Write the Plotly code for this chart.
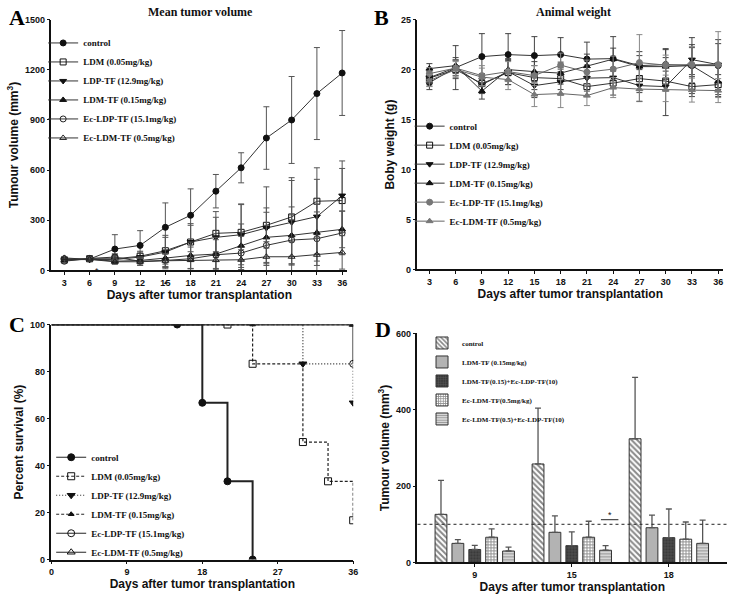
import plotly.graph_objects as go
from plotly.subplots import make_subplots

# ---- shared ----
days = [3, 6, 9, 12, 15, 18, 21, 24, 27, 30, 33, 36]
groups = ["control", "LDM (0.05mg/kg)", "LDP-TF (12.9mg/kg)", "LDM-TF (0.15mg/kg)",
          "Ec-LDP-TF (15.1mg/kg)", "Ec-LDM-TF (0.5mg/kg)"]

# ---- A: mean tumor volume (mm3) ----
vol_control = [70, 68, 128, 150, 258, 330, 474, 614, 792, 900, 1058, 1181]
vol_ldm = [62, 70, 70, 85, 118, 170, 222, 228, 270, 320, 414, 418]
vol_ldp = [65, 65, 65, 80, 110, 170, 198, 214, 254, 288, 322, 448]
vol_ldm_tf = [60, 68, 55, 60, 74, 90, 98, 148, 198, 210, 226, 246]
vol_ec_ldp = [55, 72, 80, 55, 60, 70, 94, 104, 150, 182, 190, 224]
vol_ec_ldm = [75, 66, 52, 52, 58, 62, 62, 64, 82, 82, 94, 108]
sd_vol_control = [8, 10, 86, 88, 146, 158, 100, 90, 187, 260, 275, 254]
sd_vol_ldm = [12, 15, 25, 30, 80, 110, 130, 170, 230, 235, 200, 192]
sd_vol_ldp = [10, 12, 20, 30, 100, 100, 120, 180, 120, 250, 223, 207]
sd_vol_ldm_tf = [10, 10, 15, 20, 50, 80, 100, 130, 150, 170, 170, 110]
sd_vol_ec_ldp = [8, 12, 20, 25, 40, 70, 90, 100, 120, 150, 160, 130]
sd_vol_ec_ldm = [8, 10, 15, 20, 40, 50, 50, 60, 90, 90, 100, 100]

# ---- B: body weight (g) ----
wt_control = [18.7, 20.2, 21.3, 21.5, 21.4, 21.5, 21.05, 21.1, 20.4, 20.5, 20.4, 20.4]
wt_ldm = [19.15, 20.0, 18.6, 19.7, 19.2, 19.1, 18.3, 18.65, 19.1, 18.85, 18.3, 18.5]
wt_ldp = [19.2, 20.2, 18.5, 19.8, 18.4, 18.75, 19.15, 19.2, 18.4, 18.3, 21.0, 20.5]
wt_ldm_tf = [20.1, 20.4, 17.85, 20.0, 19.8, 19.65, 20.35, 21.05, 20.3, 20.3, 20.4, 18.8]
wt_ec_ldp = [19.6, 20.15, 19.4, 19.8, 19.4, 20.45, 19.75, 20.05, 20.7, 20.45, 20.5, 20.5]
wt_ec_ldm = [18.9, 20.0, 19.25, 19.0, 17.5, 17.6, 17.4, 18.2, 18.05, 18.0, 17.95, 17.9]
sd_wt_control = [0.7, 2.2, 2.3, 2.1, 1.9, 1.7, 1.7, 2.2, 1.0, 1.5, 1.8, 2.2]
sd_wt_ldm = [0.8, 0.9, 1.0, 1.2, 1.2, 1.1, 1.0, 1.2, 1.4, 1.0, 1.0, 1.0]
sd_wt_ldp = [0.6, 0.8, 0.8, 1.3, 1.2, 1.3, 1.3, 1.0, 1.6, 2.9, 1.5, 2.5]
sd_wt_ldm_tf = [0.5, 0.8, 0.8, 1.0, 1.0, 1.1, 1.2, 1.1, 1.5, 1.8, 2.8, 1.5]
sd_wt_ec_ldp = [0.6, 0.8, 1.0, 1.0, 1.0, 1.2, 1.2, 1.3, 2.8, 1.0, 1.8, 3.3]
sd_wt_ec_ldm = [0.6, 0.8, 0.9, 1.0, 1.2, 1.4, 1.0, 1.0, 1.2, 1.2, 1.2, 1.2]

# ---- C: survival (%) ----
surv_t_control = [0, 15, 18, 21, 24]
surv_control = [100, 100, 66.7, 33.3, 0]
surv_t_ldm = [0, 21, 24, 30, 33, 36]
surv_ldm = [100, 100, 83.3, 50, 33.3, 16.7]
surv_t_ldp = [0, 30, 36]
surv_ldp = [100, 83.3, 66.7]
surv_t_ldm_tf = [0, 24, 36]
surv_ldm_tf = [100, 100, 100]
surv_t_ec_ldp = [0, 36]
surv_ec_ldp = [100, 83.3]
surv_t_ec_ldm = [0, 36]
surv_ec_ldm = [100, 100]

# ---- D: tumour volume bars ----
bar_days = ["9", "15", "18"]
bar_groups = ["control", "LDM-TF (0.15mg/kg)", "LDM-TF(0.15)+Ec-LDP-TF(10)",
              "Ec-LDM-TF(0.5mg/kg)", "Ec-LDM-TF(0.5)+Ec-LDP-TF(10)"]
bar_control = [126, 258, 324]
bar_ldm_tf = [50, 79, 91]
bar_combo1 = [34, 44, 65]
bar_ec_ldm = [66, 66, 61]
bar_combo2 = [30, 32, 50]
bar_sd_control = [89, 146, 161]
bar_sd_ldm_tf = [10, 43, 33]
bar_sd_combo1 = [11, 36, 75]
bar_sd_ec_ldm = [22, 42, 45]
bar_sd_combo2 = [10, 12, 61]

fig = make_subplots(rows=2, cols=2)

# ---------- Panel A ----------
a_series = [
    (vol_control, sd_vol_control, "circle", "#111"),
    (vol_ldm, sd_vol_ldm, "square-open", "#111"),
    (vol_ldp, sd_vol_ldp, "triangle-down", "#111"),
    (vol_ldm_tf, sd_vol_ldm_tf, "triangle-up", "#111"),
    (vol_ec_ldp, sd_vol_ec_ldp, "circle-open", "#222"),
    (vol_ec_ldm, sd_vol_ec_ldm, "triangle-up-open", "#222"),
]
for name, (vals, sd, sym, col) in zip(groups, a_series):
    fig.add_trace(go.Scatter(
        x=days, y=vals, name=name, mode="lines+markers",
        line=dict(color="#333", width=1),
        marker=dict(symbol=sym, size=6, color=col, line=dict(color=col, width=1)),
        error_y=dict(type="data", array=sd, color="#555", thickness=1, width=3),
        legend="legend",
    ), row=1, col=1)

# ---------- Panel B ----------
b_series = [
    (wt_control, sd_wt_control, "circle", "#111"),
    (wt_ldm, sd_wt_ldm, "square-open", "#111"),
    (wt_ldp, sd_wt_ldp, "triangle-down", "#111"),
    (wt_ldm_tf, sd_wt_ldm_tf, "triangle-up", "#111"),
    (wt_ec_ldp, sd_wt_ec_ldp, "circle", "#777"),
    (wt_ec_ldm, sd_wt_ec_ldm, "triangle-up", "#777"),
]
for name, (vals, sd, sym, col) in zip(groups, b_series):
    fig.add_trace(go.Scatter(
        x=days, y=vals, name=name, mode="lines+markers",
        line=dict(color="#333" if col == "#111" else "#666", width=1),
        marker=dict(symbol=sym, size=6, color=col, line=dict(color=col, width=1)),
        error_y=dict(type="data", array=sd, color="#444" if col == "#111" else "#888",
                     thickness=1, width=3),
        legend="legend2",
    ), row=1, col=2)

# ---------- Panel C ----------
c_series = [
    (surv_t_control, surv_control, "circle", "solid", 2.0, 7),
    (surv_t_ldm, surv_ldm, "square-open", "3px,2px", 1.2, 7),
    (surv_t_ldp, surv_ldp, "triangle-down", "1px,2px", 1.2, 7),
    (surv_t_ldm_tf, surv_ldm_tf, "triangle-up", "3px,2px", 1.2, 5),
    (surv_t_ec_ldp, surv_ec_ldp, "circle-open", "solid", 1.5, 7),
    (surv_t_ec_ldm, surv_ec_ldm, "triangle-up-open", "solid", 1.5, 7),
]
for name, (t, s, sym, dash, lw, ms) in zip(groups, c_series):
    fig.add_trace(go.Scatter(
        x=t, y=s, mode="lines", line=dict(color="#222", width=lw, dash=dash, shape="hv"),
        showlegend=False, hoverinfo="skip",
    ), row=2, col=1)
    fig.add_trace(go.Scatter(
        x=t[1:], y=s[1:], mode="markers", showlegend=False,
        marker=dict(symbol=sym, size=ms, color="#111", line=dict(color="#111", width=1)),
    ), row=2, col=1)
    fig.add_trace(go.Scatter(
        x=[None], y=[None], name=name, mode="lines+markers",
        line=dict(color="#222", width=1, dash=dash),
        marker=dict(symbol=sym, size=ms, color="#111", line=dict(color="#111", width=1)),
        legend="legend3",
    ), row=2, col=1)

# ---------- Panel D ----------
d_series = [
    (bar_control, bar_sd_control, dict(shape="\\", bgcolor="white", fgcolor="#111", size=4, solidity=0.5)),
    (bar_ldm_tf, bar_sd_ldm_tf, dict(shape="", bgcolor="#b3b3b3", fgcolor="#b3b3b3")),
    (bar_combo1, bar_sd_combo1, dict(shape="+", bgcolor="#3a3a3a", fgcolor="#808080", size=3, solidity=0.3)),
    (bar_ec_ldm, bar_sd_ec_ldm, dict(shape="+", bgcolor="white", fgcolor="#222", size=3, solidity=0.55)),
    (bar_combo2, bar_sd_combo2, dict(shape="-", bgcolor="#d6d6d6", fgcolor="#555", size=3, solidity=0.35)),
]
for name, (vals, sd, pat) in zip(bar_groups, d_series):
    fig.add_trace(go.Bar(
        x=bar_days, y=vals, name=name,
        marker=dict(color=pat["bgcolor"], pattern=pat, line=dict(color="#333", width=1)),
        error_y=dict(type="data", array=sd, symmetric=False, arrayminus=[0] * len(sd),
                     color="#555", thickness=1.3, width=3),
        legend="legend4",
    ), row=2, col=2)

# ---------- layout ----------
tick_font = dict(family="Liberation Sans", size=9, color="#111", weight="bold")
title_font = dict(family="Liberation Sans", size=12, color="#111", weight="bold")
axis_common = dict(showline=True, linecolor="#111", linewidth=1.5, ticks="outside",
                   ticklen=3, tickwidth=1.2, tickcolor="#111", showgrid=False,
                   zeroline=False, tickfont=tick_font, title_font=title_font)

fig.update_layout(
    width=738, height=596, margin=dict(l=0, r=0, t=0, b=0),
    plot_bgcolor="white", paper_bgcolor="white",
    barmode="group", bargap=0.13, bargroupgap=0.3,
    xaxis=dict(domain=[0.0664, 0.4715], range=[1.47, 36.6], tickvals=days, **axis_common,
               title=dict(text="Days after tumor transplantation", standoff=3)),
    yaxis=dict(domain=[0.547, 0.975], range=[0, 1500], dtick=300, **axis_common,
               title=dict(text="Tumour volume (mm<sup>3</sup>)", standoff=4)),
    xaxis2=dict(domain=[0.5678, 0.9864], range=[1.64, 36.56], tickvals=days, **axis_common,
                title=dict(text="Days after tumor transplantation", standoff=3)),
    yaxis2=dict(domain=[0.5487, 0.975], range=[0, 25], dtick=5, **axis_common,
                title=dict(text="Boby weight (g)", standoff=4)),
    xaxis3=dict(domain=[0.0664, 0.4797], range=[0, 36], dtick=9, **axis_common,
                title=dict(text="Days after tumor transplantation", standoff=3)),
    yaxis3=dict(domain=[0.0537, 0.4547], range=[0, 100], dtick=20, **axis_common,
                title=dict(text="Percent survival (%)", standoff=4)),
    xaxis4=dict(domain=[0.5678, 0.9919], range=[-0.59, 2.6], type="category", **axis_common,
                title=dict(text="Days after tumor transplantation", standoff=3)),
    yaxis4=dict(domain=[0.0487, 0.4396], range=[0, 600], dtick=200, **axis_common,
                title=dict(text="Tumour volume (mm<sup>3</sup>)", standoff=4)),
)

leg_font = dict(family="Liberation Serif", size=9, color="#111", weight="bold")
fig.update_layout(
    legend=dict(x=0.055, y=0.96, xanchor="left", yanchor="top", font=leg_font,
                bgcolor="rgba(0,0,0,0)"),
    legend2=dict(x=0.557, y=0.818, xanchor="left", yanchor="top", font=leg_font,
                 bgcolor="rgba(0,0,0,0)"),
    legend3=dict(x=0.066, y=0.253, xanchor="left", yanchor="top", font=leg_font,
                 bgcolor="rgba(0,0,0,0)"),
    legend4=dict(x=0.574, y=0.448, xanchor="left", yanchor="top",
                 font=dict(family="Liberation Serif", size=7, color="#111", weight="bold"),
                 bgcolor="rgba(0,0,0,0)"),
)

# reference line and significance mark in D
fig.add_shape(type="line", xref="x4 domain", x0=0, x1=1, yref="y4", y0=100, y1=100,
              line=dict(color="#222", width=1, dash="dot"))
fig.add_shape(type="line", xref="x4", x0=1.30, x1=1.48, yref="y4", y0=112, y1=112,
              line=dict(color="#222", width=1))
fig.add_annotation(xref="x4", x=1.39, yref="y4", y=124, text="*", showarrow=False,
                   font=dict(family="Liberation Sans", size=9, color="#111"))

# marks in A
small = dict(family="Liberation Sans", size=9, color="#111")
fig.add_annotation(xref="x", x=36.75, yref="y", y=125, text="*", showarrow=False, font=small)
fig.add_annotation(xref="x", x=6.9, yref="y domain", y=-0.03, text="*", showarrow=False, font=small)
fig.add_annotation(xref="x", x=15, yref="y domain", y=-0.066, text="▴", showarrow=False,
                   font=dict(family="DejaVu Sans", size=6, color="#111"))

# panel titles and letters
serif_title = dict(family="Liberation Serif", size=12, color="#111", weight="bold")
fig.add_annotation(xref="paper", yref="paper", x=0.271, y=1 - 7 / 596, text="Mean tumor volume",
                   showarrow=False, font=serif_title, xanchor="center", yanchor="middle")
fig.add_annotation(xref="paper", yref="paper", x=0.782, y=1 - 7 / 596, text="Animal weight",
                   showarrow=False, font=serif_title, xanchor="center", yanchor="middle")
letter_font = dict(family="Liberation Serif", size=22, color="#000", weight="bold")
for letter, px, py in [("A", 14, 13), ("B", 383, 13), ("C", 14, 325), ("D", 384, 330)]:
    fig.add_annotation(xref="paper", yref="paper", x=px / 738, y=1 - py / 596, text=letter,
                       showarrow=False, font=letter_font, xanchor="center", yanchor="middle")

# page body has a default margin; remove it so the figure sits at the window origin
fig.write_html("out.html", config={"displayModeBar": False},
               post_script="document.body.style.margin='0';")
